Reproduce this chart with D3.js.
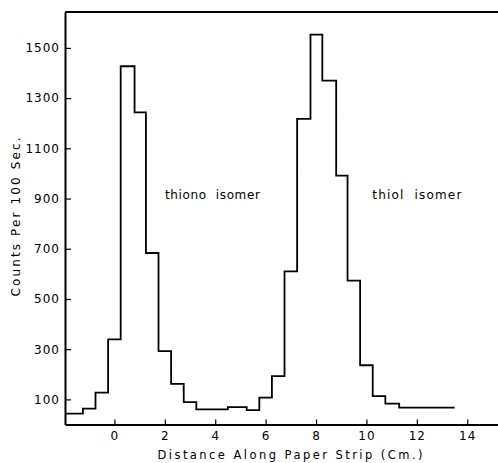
<html>

<head>
    <style>
        body { margin: 0; background: #fff; }
        text { font-family: "DejaVu Sans", sans-serif; fill: #000; }
    </style>
</head>

<body>
    <svg id="container" height="463" width="498">
        <g id="body"></g>
    </svg>
</body>
<script src="https://cdn.jsdelivr.net/npm/d3@7"></script>
<script>
    // bin edges along the strip (cm) and counts for each bin
    let edges = [-1.96, -1.25, -0.75, -0.25, 0.25, 0.8, 1.25, 1.75, 2.25, 2.75, 3.25, 4.5, 5.25, 5.75, 6.25, 6.75, 7.25, 7.78, 8.25, 8.8, 9.25, 9.75, 10.25, 10.75, 11.3, 13.5]
    let counts = [43, 63, 127, 339, 1427, 1243, 683, 292, 162, 89, 60, 69, 57, 107, 193, 610, 1217, 1553, 1370, 991, 573, 236, 113, 83, 67]
    let xTicks = [0, 2, 4, 6, 8, 10, 12, 14]
    let yTicks = [100, 300, 500, 700, 900, 1100, 1300, 1500]
    let labels = [
        { text: "thiono  isomer", x: 3.89, y: 900, w: 95 },
        { text: "thiol  isomer", x: 12.0, y: 900, w: 89 }
    ]

    let body = d3.select("#body")

    let x = d3.scaleLinear().domain([-1.96, 15.22]).range([65, 498])
    let y = d3.scaleLinear().domain([0, 1643]).range([424.5, 12])

    // step line: each bin drawn flat from its left edge, last point closes the final bin
    let pts = counts.map((c, i) => [edges[i], c])
    pts.push([edges[edges.length - 1], counts[counts.length - 1]])

    let line = d3.line()
        .x(d => x(d[0]))
        .y(d => y(d[1]))
        .curve(d3.curveStepAfter)

    body.append("path")
        .attr("d", line(pts))
        .attr("fill", "none")
        .attr("stroke", "black")
        .attr("stroke-width", 1.8)

    // axes, ticks point inward
    let yAxis = d3.axisLeft(y).tickValues(yTicks).tickFormat(d3.format("d"))
        .tickSize(-6).tickSizeOuter(0).tickPadding(5)
    let xAxis = d3.axisBottom(x).tickValues(xTicks).tickFormat(d3.format("d"))
        .tickSize(-5).tickSizeOuter(0).tickPadding(7)

    let gy = body.append("g").attr("transform", "translate(65,0)").call(yAxis)
    let gx = body.append("g").attr("transform", "translate(0,424.5)").call(xAxis)

    for (let g of [gx, gy]) {
        g.select(".domain").attr("stroke-width", 2)
        g.selectAll(".tick line").attr("stroke-width", 1.2)
        g.selectAll(".tick text")
            .style("font-family", "DejaVu Sans, sans-serif")
            .attr("font-size", 12)
            .attr("letter-spacing", 1)
    }

    // top border
    body.append("line")
        .attr("x1", 65).attr("x2", 498)
        .attr("y1", 12).attr("y2", 12)
        .attr("stroke", "black")
        .attr("stroke-width", 2)

    body.selectAll(".iso")
        .data(labels)
        .enter().append("text")
        .attr("class", "iso")
        .attr("x", d => x(d.x))
        .attr("y", d => y(d.y))
        .attr("text-anchor", "middle")
        .attr("font-size", 12)
        .attr("textLength", d => d.w)
        .attr("lengthAdjust", "spacing")
        .style("white-space", "pre")
        .text(d => d.text)

    body.append("text")
        .attr("x", 290)
        .attr("y", 459)
        .attr("text-anchor", "middle")
        .attr("font-size", 11.5)
        .attr("textLength", 265)
        .attr("lengthAdjust", "spacing")
        .text("Distance Along Paper Strip (Cm.)")

    body.append("text")
        .attr("transform", "translate(20,217) rotate(-90)")
        .attr("text-anchor", "middle")
        .attr("font-size", 12)
        .attr("textLength", 159)
        .attr("lengthAdjust", "spacing")
        .text("Counts Per 100 Sec.")
</script>

</html>
